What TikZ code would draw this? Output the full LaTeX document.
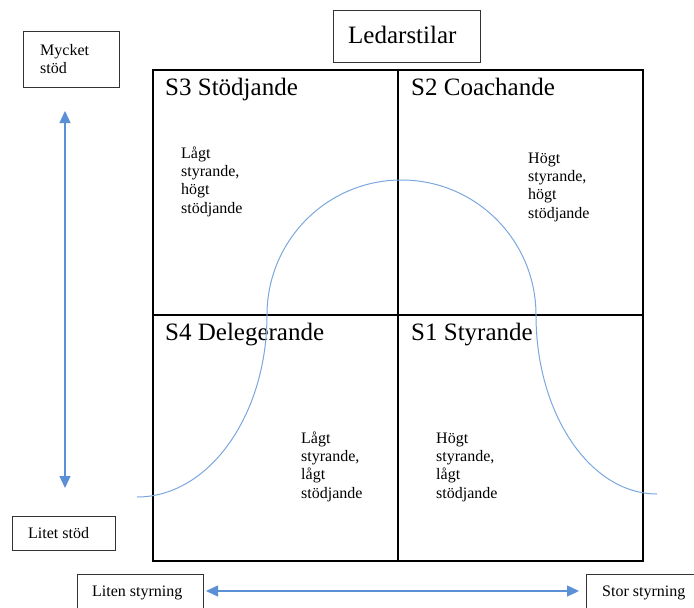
\documentclass[tikz,border=0pt]{standalone}
\usepackage{fontspec}
\setmainfont{Liberation Serif}
\usetikzlibrary{arrows.meta}
\definecolor{arrowblue}{HTML}{5B8FD6}
\definecolor{curveblue}{HTML}{7BA7DF}
\definecolor{boxgray}{HTML}{333333}
\tikzset{
  lbl/.style={anchor=base west, inner sep=0pt, align=left, font=\fontsize{16}{18.4}\selectfont},
  title/.style={anchor=base west, inner sep=0pt, font=\fontsize{25}{28}\selectfont},
  labelbox/.style={draw=boxgray, line width=1pt, inner sep=0pt, anchor=north west},
  axisarrow/.style={draw=arrowblue, line width=1.3pt, {Triangle[length=12pt,width=11pt]}-{Triangle[length=12pt,width=11pt]}},
  gridline/.style={line width=1.6pt, draw=black}
}
\begin{document}
\begin{tikzpicture}[x=1pt,y=-1pt]
\useasboundingbox (0,0) rectangle (694,608);
% main grid
\draw[gridline] (153,70) rectangle (643,561);
\draw[gridline] (398,70) -- (398,561);
\draw[gridline] (153,315) -- (643,315);
% title box
\node[labelbox, minimum width=147pt, minimum height=52pt] (ledbox) at (333,10) {};
\node[title] (led) at (348,43) {Ledarstilar};
% quadrant titles
\node[title] (s3) at (165,95) {S3 Stödjande};
\node[title] (s2) at (411,95) {S2 Coachande};
\node[title] (s4) at (165,340) {S4 Delegerande};
\node[title] (s1) at (411,340) {S1 Styrande};
% descriptions (anchor at baseline of last line)
\node[lbl] (d3) at (181,213.2) {Lågt\\styrande,\\högt\\stödjande};
\node[lbl] (d2) at (528,218.2) {Högt\\styrande,\\högt\\stödjande};
\node[lbl] (d4) at (301,498.2) {Lågt\\styrande,\\lågt\\stödjande};
\node[lbl] (d1) at (436,498.2) {Högt\\styrande,\\lågt\\stödjande};
% side label boxes
\node[labelbox, minimum width=96pt, minimum height=56pt] (mbox) at (23,31) {};
\node[lbl] (mtext) at (40,73.4) {Mycket\\stöd};
\node[labelbox, minimum width=103pt, minimum height=34pt] (lbox) at (12,516) {};
\node[lbl] (ltext) at (28,538) {Litet stöd};
\node[labelbox, minimum width=126pt, minimum height=40pt] (lsbox) at (77,574) {};
\node[lbl] (lstext) at (92,596) {Liten styrning};
\node[labelbox, minimum width=115pt, minimum height=40pt] (ssbox) at (586,574) {};
\node[lbl] (sstext) at (602,596) {Stor styrning};
% axes
\coordinate (vtop) at (65,111);
\coordinate (vbot) at (65,488);
\coordinate (hleft) at (206,591);
\coordinate (hright) at (579,591);
\draw[axisarrow] (vtop) -- (vbot);
\draw[axisarrow] (hleft) -- (hright);
% bell curve
\draw[curveblue, line width=1pt]
  (137,497) .. controls (208.8,497) and (267,415.5) .. (267,315)
  .. controls (267,240.4) and (327.2,180) .. (401.5,180)
  .. controls (475.8,180) and (536,240.4) .. (536,315)
  .. controls (536,413.9) and (590.2,494) .. (657,494);
\end{tikzpicture}
\end{document}
